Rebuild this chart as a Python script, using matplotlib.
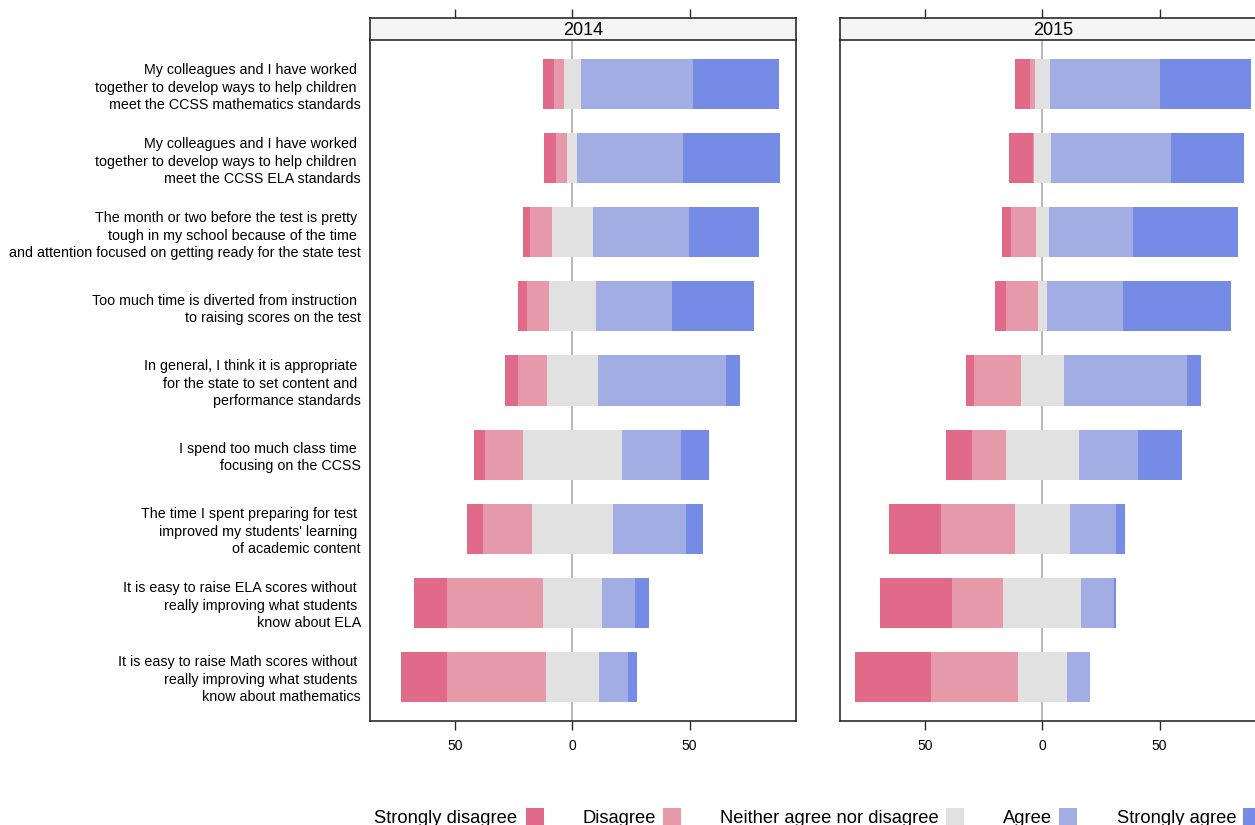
import matplotlib
matplotlib.use("Agg")
import matplotlib.pyplot as plt
from matplotlib.patches import Rectangle
import numpy as np

plt.rcParams['font.family'] = ['Liberation Sans', 'DejaVu Sans']

questions = [
    "My colleagues and I have worked \ntogether to develop ways to help children \nmeet the CCSS mathematics standards",
    "My colleagues and I have worked \ntogether to develop ways to help children \nmeet the CCSS ELA standards",
    "The month or two before the test is pretty \ntough in my school because of the time \nand attention focused on getting ready for the state test",
    "Too much time is diverted from instruction \nto raising scores on the test",
    "In general, I think it is appropriate \nfor the state to set content and \nperformance standards",
    "I spend too much class time \nfocusing on the CCSS",
    "The time I spent preparing for test \nimproved my students' learning \nof academic content",
    "It is easy to raise ELA scores without \nreally improving what students \nknow about ELA",
    "It is easy to raise Math scores without \nreally improving what students \nknow about mathematics",
]

years = ["2014", "2015"]
levels = ["Strongly disagree", "Disagree", "Neither agree nor disagree", "Agree", "Strongly agree"]
colors = ["#E06A87", "#E699A8", "#E1E1E1", "#A2ADE3", "#768BE6"]

sd_2014 = [4.6, 5.1, 2.9, 3.7, 5.6, 5.0, 6.6, 14.4, 19.5]
d_2014 = [4.3, 4.7, 9.3, 9.4, 12.5, 16.2, 21.1, 40.9, 42.4]
n_2014 = [7.0, 4.3, 17.6, 20.0, 21.5, 42.1, 34.6, 25.2, 22.4]
a_2014 = [48.2, 45.0, 41.0, 32.6, 55.0, 25.3, 31.2, 14.2, 12.7]
sa_2014 = [36.6, 41.5, 29.8, 35.0, 6.0, 12.0, 7.1, 6.0, 3.6]

sd_2015 = [6.1, 10.3, 3.7, 4.6, 3.5, 11.1, 22.1, 31.1, 32.5]
d_2015 = [2.1, 0.4, 10.6, 13.7, 20.1, 14.7, 31.5, 21.8, 37.4]
n_2015 = [6.8, 7.1, 5.6, 4.1, 18.5, 30.8, 23.8, 33.3, 20.6]
a_2015 = [46.6, 51.4, 35.9, 32.5, 52.6, 25.6, 19.4, 13.7, 9.8]
sa_2015 = [38.9, 31.2, 45.0, 45.9, 5.8, 18.5, 4.0, 0.9, 0.4]

data = {
    "2014": [sd_2014, d_2014, n_2014, a_2014, sa_2014],
    "2015": [sd_2015, d_2015, n_2015, a_2015, sa_2015],
}

W, H = 1255, 825
fig = plt.figure(figsize=(W / 100, H / 100), dpi=100)

def fx(px):
    return px / W

def fy(py):
    return 1 - py / H

panel_left = [370, 840]
panel_w = 426
top_py, bot_py, strip_top_py = 40, 721, 18
xlim = (-86.5, 95.5)
frame_col = "#2B2B2B"

for k, yr in enumerate(years):
    ax = fig.add_axes([fx(panel_left[k]), fy(bot_py), panel_w / W, (bot_py - top_py) / H])
    sd, d, n, a, sa = [np.array(v) for v in data[yr]]
    y = np.arange(len(questions))
    ax.axvline(0, color="#ABABAB", lw=1.2, zorder=0)
    lefts = [-(sd + d + n / 2), -(d + n / 2), -n / 2, n / 2, n / 2 + a]
    for vals, lft, c in zip([sd, d, n, a, sa], lefts, colors):
        ax.barh(y, vals, left=lft, height=0.676, color=c, edgecolor="none", zorder=2)
    ax.set_xlim(*xlim)
    ax.set_ylim(len(questions) - 1 + 0.6, -0.6)
    ax.set_xticks([-50, 0, 50])
    ax.set_xticklabels(["50", "0", "50"], fontsize=10)
    ax.tick_params(axis="x", direction="out", length=6.5, width=1, color=frame_col, pad=6.5)
    if k == 0:
        ax.set_yticks(y)
        ax.set_yticklabels(questions, fontsize=10.3, linespacing=1.3)
        ax.tick_params(axis="y", length=0, pad=6.5)
    else:
        ax.set_yticks([])
    for s in ax.spines.values():
        s.set_color(frame_col)
        s.set_linewidth(1.2)
    ax.spines["top"].set_visible(False)

    # strip
    sax = fig.add_axes([fx(panel_left[k]), fy(top_py), panel_w / W, (top_py - strip_top_py) / H])
    sax.set_facecolor("#F5F5F5")
    sax.set_xlim(*xlim)
    sax.set_ylim(0, 1)
    sax.set_yticks([])
    sax.set_xticks([-50, 0, 50])
    sax.set_xticklabels([])
    sax.tick_params(axis="x", which="both", bottom=False, top=True, labeltop=False,
                    labelbottom=False, direction="out", length=6.5, width=1, color=frame_col)
    for s in sax.spines.values():
        s.set_color(frame_col)
        s.set_linewidth(1.2)
    sax.text(0.5, 0.45, yr, transform=sax.transAxes, ha="center", va="center", fontsize=13)

# legend (text then colour square)
text_x = [374, 582, 720, 1003, 1117]
sq_x = [526, 663, 946, 1059, 1243]
for lab, c, tx, sx in zip(levels, colors, text_x, sq_x):
    fig.text(fx(tx), fy(823), lab, ha="left", va="baseline", fontsize=13.2)
    fig.patches.append(Rectangle((fx(sx), fy(826)), 18 / W, 18 / H, transform=fig.transFigure,
                                 facecolor=c, edgecolor="none"))

fig.savefig("out.png", dpi=100)
